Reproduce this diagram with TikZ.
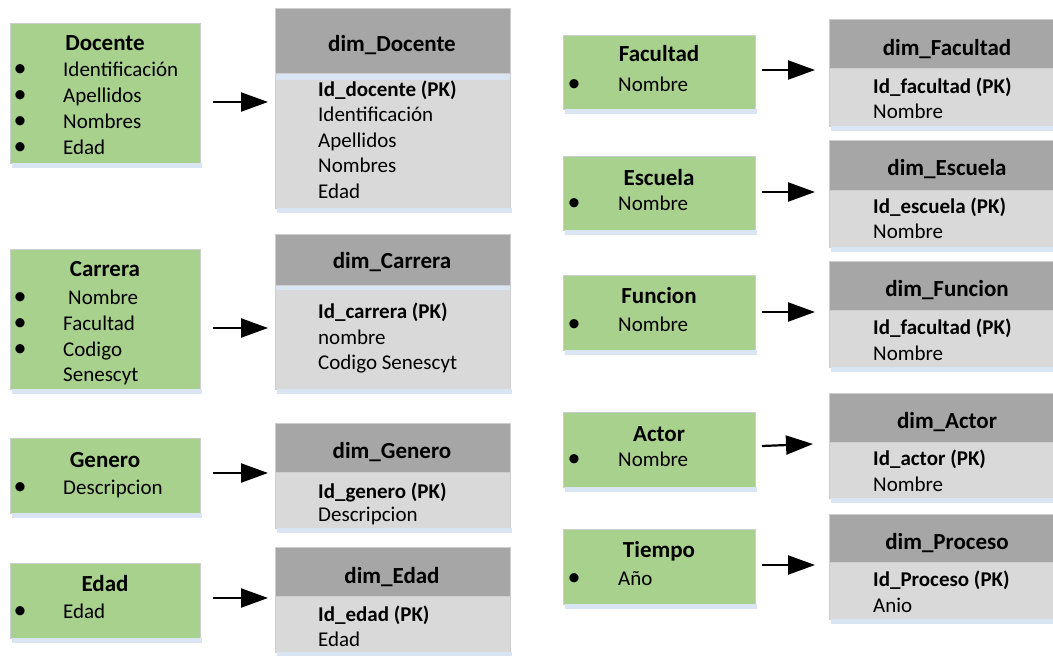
\documentclass[tikz,border=0pt]{standalone}
\usepackage{fontspec}
\setmainfont{Carlito}
\usetikzlibrary{arrows.meta}

\definecolor{srcgreen}{HTML}{A9D18E}
\definecolor{hdrgray}{HTML}{A6A6A6}
\definecolor{bodygray}{HTML}{D9D9D9}
\definecolor{edgegray}{HTML}{CDCDCD}
\definecolor{shadeblue}{HTML}{DAE5F3}

\tikzset{
  srcbox/.style={draw=edgegray, fill=srcgreen, line width=1pt, inner sep=0pt, outer sep=0pt, anchor=north west},
  dimhead/.style={draw=edgegray, fill=hdrgray, line width=1pt, inner sep=0pt, outer sep=0pt, anchor=north west},
  dimbody/.style={draw=edgegray, fill=bodygray, line width=1pt, inner sep=0pt, outer sep=0pt, anchor=north west},
  txt/.style={inner sep=0pt, yshift=-6pt},
  ttl/.style={txt, font=\fontsize{23}{28}\selectfont\bfseries, anchor=mid},
  fld/.style={txt, font=\fontsize{21}{25}\selectfont, anchor=mid west},
  keyfld/.style={txt, font=\fontsize{21}{25}\selectfont\bfseries, anchor=mid west},
  blt/.style={txt, font=\fontsize{26}{30}\selectfont, anchor=mid},
  conn/.style={line width=2.2pt, -{Triangle[length=27pt,width=19pt]}},
}

% source entity box: name, x0, y0, x1, y1
\newcommand\srcbox[5]{%
  \node[srcbox, minimum width={#4-#2}, minimum height={#5-#3}] (#1) at (#2,#3) {};
  \fill[shadeblue] ([xshift=1.5pt]#1.south west) rectangle ([xshift=1.5pt,yshift=-5pt]#1.south east);
}
% dimension table: name, x0, y0, x1, y1, header bottom
\newcommand\dimbox[6]{%
  \node[dimhead, minimum width={#4-#2}, minimum height={#6-#3}] (#1h) at (#2,#3) {};
  \node[dimbody, minimum width={#4-#2}, minimum height={#5-#6}] (#1b) at (#2,#6) {};
  \fill[shadeblue] ([xshift=1.5pt]#1b.south west) rectangle ([xshift=1.5pt,yshift=-5pt]#1b.south east);
}

\begin{document}
\begin{tikzpicture}[x=1pt, y=-1pt]
\clip (0,0) rectangle (1053,656);
\fill[white] (0,0) rectangle (1053,656);

% ---------------- left column: source entities ----------------
\srcbox{sDoc}{10}{23}{200}{163}
\node[ttl] (sDocT) at (105,42) {Docente};
\node[blt] (sDocB1) at (20,68) {•};  \node[fld] (sDoc1) at (63,68) {Identificación};
\node[blt] (sDocB2) at (20,94) {•};  \node[fld] (sDoc2) at (63,94) {Apellidos};
\node[blt] (sDocB3) at (20,120) {•}; \node[fld] (sDoc3) at (63,120) {Nombres};
\node[blt] (sDocB4) at (20,146) {•}; \node[fld] (sDoc4) at (63,146) {Edad};

\srcbox{sCar}{10}{249}{200}{389}
\node[ttl] (sCarT) at (105,268) {Carrera};
\node[blt] (sCarB1) at (20,296) {•}; \node[fld] (sCar1) at (68,296) {Nombre};
\node[blt] (sCarB2) at (20,322) {•}; \node[fld] (sCar2) at (63,322) {Facultad};
\node[blt] (sCarB3) at (20,348) {•}; \node[fld] (sCar3) at (63,348) {Codigo};
\node[fld] (sCar4) at (63,373) {Senescyt};

\srcbox{sGen}{10}{438}{200}{513}
\node[ttl] (sGenT) at (105,459) {Genero};
\node[blt] (sGenB1) at (20,486) {•}; \node[fld] (sGen1) at (63,486) {Descripcion};

\srcbox{sEda}{10}{563}{200}{638}
\node[ttl] (sEdaT) at (105,583) {Edad};
\node[blt] (sEdaB1) at (20,610) {•}; \node[fld] (sEda1) at (63,610) {Edad};

% ---------------- left column: dimension tables ----------------
\dimbox{dDoc}{275}{8}{510}{208}{73}
\fill[shadeblue] ([xshift=0.5pt,yshift=-0.5pt]dDocb.north west) rectangle ([xshift=-0.5pt,yshift=-7pt]dDocb.north east);
\node[ttl] (dDocT) at (392,43) {dim\_Docente};
\node[keyfld] (dDoc1) at (318,88) {Id\_docente (PK)};
\node[fld] (dDoc2) at (318,113) {Identificación};
\node[fld] (dDoc3) at (318,139) {Apellidos};
\node[fld] (dDoc4) at (318,164) {Nombres};
\node[fld] (dDoc5) at (318,190) {Edad};

\dimbox{dCar}{275}{234}{510}{389}{285}
\fill[shadeblue] ([xshift=0.5pt,yshift=-0.5pt]dCarb.north west) rectangle ([xshift=-0.5pt,yshift=-5pt]dCarb.north east);
\node[ttl] (dCarT) at (392,260) {dim\_Carrera};
\node[keyfld] (dCar1) at (318,310) {Id\_carrera (PK)};
\node[fld] (dCar2) at (318,336) {nombre};
\node[fld] (dCar3) at (318,361) {Codigo Senescyt};

\dimbox{dGen}{275}{423}{510}{528}{472}
\node[ttl] (dGenT) at (392,450) {dim\_Genero};
\node[keyfld] (dGen1) at (318,490) {Id\_genero (PK)};
\node[fld] (dGen2) at (318,513) {Descripcion};

\dimbox{dEda}{275}{547}{510}{652}{596}
\node[ttl] (dEdaT) at (392,575) {dim\_Edad};
\node[keyfld] (dEda1) at (318,613) {Id\_edad (PK)};
\node[fld] (dEda2) at (318,638) {Edad};

% ---------------- right column: source entities ----------------
\srcbox{sFac}{563}{35}{755}{109}
\node[ttl] (sFacT) at (659,53) {Facultad};
\node[blt] (sFacB1) at (574,83) {•}; \node[fld] (sFac1) at (618,83) {Nombre};

\srcbox{sEsc}{563}{156}{755}{230}
\node[ttl] (sEscT) at (659,177) {Escuela};
\node[blt] (sEscB1) at (574,202) {•}; \node[fld] (sEsc1) at (618,202) {Nombre};

\srcbox{sFun}{563}{275}{755}{350}
\node[ttl] (sFunT) at (659,295) {Funcion};
\node[blt] (sFunB1) at (574,323) {•}; \node[fld] (sFun1) at (618,323) {Nombre};

\srcbox{sAct}{563}{412}{755}{487}
\node[ttl] (sActT) at (659,433) {Actor};
\node[blt] (sActB1) at (574,458) {•}; \node[fld] (sAct1) at (618,458) {Nombre};

\srcbox{sTie}{563}{529}{755}{604}
\node[ttl] (sTieT) at (659,549) {Tiempo};
\node[blt] (sTieB1) at (574,577) {•}; \node[fld] (sTie1) at (618,577) {Año};

% ---------------- right column: dimension tables ----------------
\dimbox{dFac}{829}{19}{1065}{126}{68}
\node[ttl] (dFacT) at (947,47) {dim\_Facultad};
\node[keyfld] (dFac1) at (873,85) {Id\_facultad (PK)};
\node[fld] (dFac2) at (873,110) {Nombre};

\dimbox{dEsc}{829}{140}{1065}{247}{190}
\node[ttl] (dEscT) at (947,167) {dim\_Escuela};
\node[keyfld] (dEsc1) at (873,205) {Id\_escuela (PK)};
\node[fld] (dEsc2) at (873,230) {Nombre};

\dimbox{dFun}{829}{261}{1065}{367}{310}
\node[ttl] (dFunT) at (947,288) {dim\_Funcion};
\node[keyfld] (dFun1) at (873,326) {Id\_facultad (PK)};
\node[fld] (dFun2) at (873,352) {Nombre};

\dimbox{dAct}{829}{393}{1065}{498}{442}
\node[ttl] (dActT) at (947,420) {dim\_Actor};
\node[keyfld] (dAct1) at (873,457) {Id\_actor (PK)};
\node[fld] (dAct2) at (873,483) {Nombre};

\dimbox{dPro}{829}{514}{1065}{619}{562}
\node[ttl] (dProT) at (947,541) {dim\_Proceso};
\node[keyfld] (dPro1) at (873,578) {Id\_Proceso (PK)};
\node[fld] (dPro2) at (873,604) {Anio};

% ---------------- connectors ----------------
\coordinate (aDocS) at (213,102); \coordinate (aDocE) at (268,102);
\coordinate (aCarS) at (213,328); \coordinate (aCarE) at (268,328);
\coordinate (aGenS) at (213,473); \coordinate (aGenE) at (268,473);
\coordinate (aEdaS) at (213,598); \coordinate (aEdaE) at (268,598);
\coordinate (aFacS) at (762,70);  \coordinate (aFacE) at (815,70);
\coordinate (aEscS) at (762,192); \coordinate (aEscE) at (815,192);
\coordinate (aFunS) at (762,312); \coordinate (aFunE) at (815,312);
\coordinate (aActS) at (762,446); \coordinate (aActE) at (813,444);
\coordinate (aProS) at (762,565); \coordinate (aProE) at (815,565);

\draw[conn] (aDocS) -- (aDocE);
\draw[conn] (aCarS) -- (aCarE);
\draw[conn] (aGenS) -- (aGenE);
\draw[conn] (aEdaS) -- (aEdaE);
\draw[conn] (aFacS) -- (aFacE);
\draw[conn] (aEscS) -- (aEscE);
\draw[conn] (aFunS) -- (aFunE);
\draw[conn] (aActS) -- (aActE);
\draw[conn] (aProS) -- (aProE);
\end{tikzpicture}
\end{document}
